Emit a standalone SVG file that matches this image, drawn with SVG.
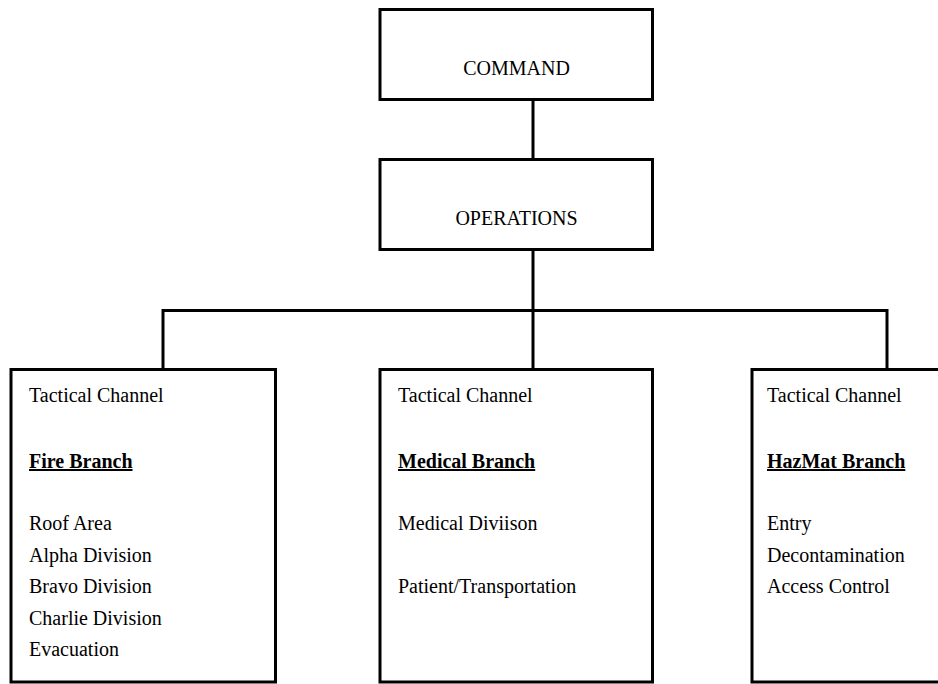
<svg xmlns="http://www.w3.org/2000/svg" width="938" height="684" viewBox="0 0 938 684">
  <style>
    .box { fill: #ffffff; stroke: #000000; stroke-width: 3; }
    .wire { fill: none; stroke: #000000; stroke-width: 3; stroke-linecap: square; }
    text { font-family: "Liberation Serif", "Times New Roman", serif; font-size: 20px; fill: #000000; }
    .title { text-anchor: middle; }
    .branch { font-weight: bold; text-decoration: underline; }
  </style>
  <rect x="0" y="0" width="938" height="684" fill="#ffffff"/>

  <!-- connectors -->
  <g id="connectors">
    <line class="wire" x1="533" y1="99.5" x2="533" y2="159.5"/>
    <line class="wire" x1="533" y1="249.5" x2="533" y2="369.5"/>
    <polyline class="wire" points="163,369.5 163,310.5 887,310.5 887,369.5"/>
  </g>

  <g id="command">
    <rect class="box" x="380" y="9.5" width="272.5" height="90"/>
    <text class="title" x="516.5" y="75">COMMAND</text>
  </g>

  <g id="operations">
    <rect class="box" x="380" y="159.5" width="272.5" height="90"/>
    <text class="title" x="516.5" y="225">OPERATIONS</text>
  </g>

  <g id="fire-branch">
    <rect class="box" x="11" y="369.5" width="264.5" height="312.5"/>
    <text x="29" y="402">Tactical Channel</text>
    <text class="branch" x="29" y="468">Fire Branch</text>
    <text x="29" y="530">Roof Area</text>
    <text x="29" y="561.5">Alpha Division</text>
    <text x="29" y="593">Bravo Division</text>
    <text x="29" y="624.5">Charlie Division</text>
    <text x="29" y="656">Evacuation</text>
  </g>

  <g id="medical-branch">
    <rect class="box" x="380" y="369.5" width="272.5" height="312.5"/>
    <text x="398" y="402">Tactical Channel</text>
    <text class="branch" x="398" y="468">Medical Branch</text>
    <text x="398" y="530">Medical Diviison</text>
    <text x="398" y="593">Patient/Transportation</text>
  </g>

  <g id="hazmat-branch">
    <rect class="box" x="752" y="369.5" width="200" height="312.5"/>
    <text x="767" y="402">Tactical Channel</text>
    <text class="branch" x="767" y="468">HazMat Branch</text>
    <text x="767" y="530">Entry</text>
    <text x="767" y="561.5">Decontamination</text>
    <text x="767" y="593">Access Control</text>
  </g>
</svg>
